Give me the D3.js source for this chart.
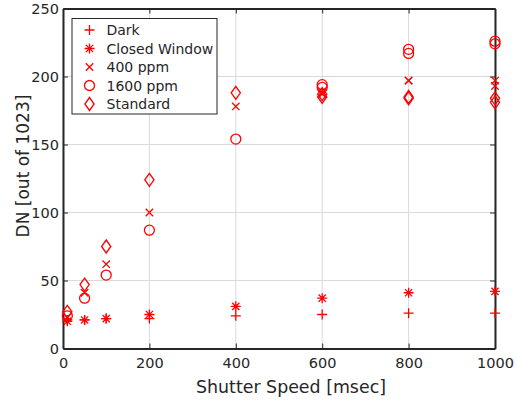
<!DOCTYPE html>
<html>
<head>
<meta charset="utf-8">
<script src="https://cdn.jsdelivr.net/npm/d3@7"></script>
<style>
  body { margin: 0; background: #fff; }
  text { font-family: "DejaVu Sans", Verdana, sans-serif; fill: #262626; }
</style>
</head>
<body>
<svg id="chart" width="516" height="401"></svg>
<script>
// exposure times and mean DN per setup
const shutter = [10, 50, 100, 200, 400, 600, 800, 1000];
const dark = [21, 21, 22, 22, 24, 25, 26, 26];
const closedWindow = [20, 21, 22, 25, 31, 37, 41, 42];
const ppm400 = [23, 41, 62, 100, 178, 188, 197, 197];
const ppm1600 = [24, 37, 54, 87, 154, 194, 220, 226];
const standard = [27, 47, 75, 124, 188, 187, 185, 184];

// second run, long exposures only
const shutterRun2 = [600, 800, 1000];
const ppm400Run2 = [187, 197, 193];
const ppm1600Run2 = [192, 217, 224];
const standardRun2 = [185, 184, 181];

const xTicks = [0, 200, 400, 600, 800, 1000];
const yTicks = [0, 50, 100, 150, 200, 250];

const series = [
  { name: "Dark", marker: "plus", x: shutter, y: dark },
  { name: "Closed Window", marker: "asterisk", x: shutter, y: closedWindow },
  { name: "400 ppm", marker: "cross", x: shutter.concat(shutterRun2), y: ppm400.concat(ppm400Run2) },
  { name: "1600 ppm", marker: "circle", x: shutter.concat(shutterRun2), y: ppm1600.concat(ppm1600Run2) },
  { name: "Standard", marker: "diamond", x: shutter.concat(shutterRun2), y: standard.concat(standardRun2) }
];

const red = "#ff0000";
const svg = d3.select("#chart");
const plotLeft = 63, plotRight = 495, plotTop = 8.5, plotBottom = 348.5;

const x = d3.scaleLinear().domain([0, 1000]).range([plotLeft, plotRight]);
const y = d3.scaleLinear().domain([0, 250]).range([plotBottom, plotTop]);

// grid
const grid = svg.append("g").attr("stroke", "#dadada").attr("stroke-width", 1);
xTicks.forEach(t => grid.append("line")
  .attr("x1", x(t)).attr("x2", x(t)).attr("y1", plotTop).attr("y2", plotBottom));
yTicks.forEach(t => grid.append("line")
  .attr("x1", plotLeft).attr("x2", plotRight).attr("y1", y(t)).attr("y2", y(t)));

// axes (ticks inside, box on all sides)
const tickLen = 5;
const fmt = d3.format("d");
const xAxis = svg.append("g").attr("transform", `translate(0,${plotBottom})`)
  .call(d3.axisBottom(x).tickValues(xTicks).tickFormat(fmt).tickSizeInner(-tickLen).tickSizeOuter(0).tickPadding(9));
const yAxis = svg.append("g").attr("transform", `translate(${plotLeft},0)`)
  .call(d3.axisLeft(y).tickValues(yTicks).tickFormat(fmt).tickSizeInner(-tickLen).tickSizeOuter(0).tickPadding(4));
svg.append("g").attr("transform", `translate(0,${plotTop})`)
  .call(d3.axisTop(x).tickValues(xTicks).tickSizeInner(-tickLen).tickSizeOuter(0).tickFormat(""));
svg.append("g").attr("transform", `translate(${plotRight},0)`)
  .call(d3.axisRight(y).tickValues(yTicks).tickSizeInner(-tickLen).tickSizeOuter(0).tickFormat(""));

svg.selectAll(".domain").attr("stroke", "#262626").attr("stroke-width", 2);
svg.selectAll(".tick line").attr("stroke", "#262626").attr("stroke-width", 1);
svg.selectAll(".tick text").attr("font-size", 14.5).attr("fill", "#262626")
  .style("font-family", "'DejaVu Sans', Verdana, sans-serif");
xAxis.selectAll(".tick text").attr("dy", "0.71em");

// axis labels
svg.append("text")
  .attr("x", 291).attr("y", 393)
  .attr("text-anchor", "middle").attr("font-size", 17.4)
  .text("Shutter Speed [msec]");
svg.append("text")
  .attr("transform", "translate(29,166) rotate(-90)")
  .attr("text-anchor", "middle").attr("font-size", 17)
  .text("DN [out of 1023]");

function markerPath(type) {
  const p = d3.path();
  if (type === "plus" || type === "asterisk") {
    p.moveTo(-5, 0); p.lineTo(5, 0);
    p.moveTo(0, -5); p.lineTo(0, 5);
  }
  if (type === "asterisk") {
    p.moveTo(-3.6, -3.6); p.lineTo(3.6, 3.6);
    p.moveTo(-3.6, 3.6); p.lineTo(3.6, -3.6);
  }
  if (type === "cross") {
    p.moveTo(-3.7, -3.7); p.lineTo(3.7, 3.7);
    p.moveTo(-3.7, 3.7); p.lineTo(3.7, -3.7);
  }
  if (type === "circle") {
    p.moveTo(5, 0); p.arc(0, 0, 5, 0, Math.PI * 2);
  }
  if (type === "diamond") {
    p.moveTo(0, -6.5); p.lineTo(4.6, 0); p.lineTo(0, 6.5); p.lineTo(-4.6, 0); p.closePath();
  }
  return p.toString();
}

// points
series.forEach(s => {
  svg.append("g").selectAll("path")
    .data(s.x.map((xv, i) => [xv, s.y[i]]))
    .join("path")
    .attr("transform", d => `translate(${x(d[0])},${y(d[1])})`)
    .attr("d", markerPath(s.marker))
    .attr("fill", "none")
    .attr("stroke", red)
    .attr("stroke-width", 1.3);
});

// legend
const legend = svg.append("g");
legend.append("rect")
  .attr("x", 72).attr("y", 18.5).attr("width", 145).attr("height", 95.5)
  .attr("fill", "#fff").attr("stroke", "#262626").attr("stroke-width", 1);
series.forEach((s, i) => {
  const cy = 30 + i * 18.5;
  legend.append("path")
    .attr("transform", `translate(89.5,${cy})`)
    .attr("d", markerPath(s.marker))
    .attr("fill", "none").attr("stroke", red).attr("stroke-width", 1.3);
  legend.append("text")
    .attr("x", 106.5).attr("y", cy).attr("dy", "0.36em")
    .attr("font-size", 14)
    .text(s.name);
});
</script>
</body>
</html>
